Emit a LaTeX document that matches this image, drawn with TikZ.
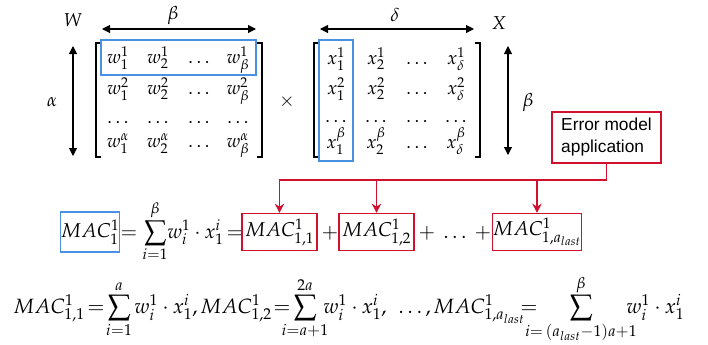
\documentclass[tikz,border=0pt]{standalone}
\usepackage{mathpazo}
\usepackage[no-math]{fontspec}
\newfontfamily\arialfont{Liberation Sans}
\usetikzlibrary{arrows.meta}
\definecolor{bbox}{RGB}{74,144,226}
\definecolor{rbox}{RGB}{208,16,46}
\begin{document}
\begin{tikzpicture}[x=0.75pt,y=-0.75pt,font=\fontsize{14}{17}\selectfont,
  ent/.style={anchor=base,inner sep=0pt},
  entw/.style={anchor=base west,inner sep=0pt},
  lbl/.style={inner sep=0pt},
  dim/.style={{Triangle[length=6pt,width=6pt]}-{Triangle[length=6pt,width=6pt]},line width=0.8pt},
  brk/.style={line width=0.8pt},
  bluebox/.style={draw=bbox,line width=0.8pt,inner sep=0pt},
  redbox/.style={draw=rbox,line width=0.8pt,inner sep=0pt,minimum height=27.75pt},
  rarr/.style={draw=rbox,line width=0.8pt,-{Stealth[length=7pt,width=7pt]}},
  teq/.style={font=\fontsize{15}{18}\selectfont},
  beq/.style={font=\fontsize{15.5}{18.5}\selectfont}]
\useasboundingbox (0,0) rectangle (708,344);

% ---- W matrix ----
\node[lbl] (Wl) at (73,20) {$W$};
\coordinate (wb1) at (102,29); \coordinate (wb2) at (256,29);
\draw[dim] (wb1) -- (wb2);
\node[lbl] (betaW) at (173,15) {$\beta$};
\coordinate (wa1) at (73,46); \coordinate (wa2) at (73,156);
\draw[dim] (wa1) -- (wa2);
\node[lbl] (alphaW) at (52,102) {$\alpha$};
\draw[brk] (101,43) -- (96,43) -- (96,157) -- (101,157);
\draw[brk] (257,43) -- (262,43) -- (262,157) -- (257,157);
\draw[draw=bbox,line width=0.8pt] (101,40) rectangle (256,75);

\node[ent] (w11) at (118,63) {$w_1^1$};
\node[ent] (w12) at (158,63) {$w_2^1$};
\node[ent] (w13) at (199,63) {$\dots$};
\node[ent] (w14) at (238,63) {$w_\beta^1$};
\node[ent] (w21) at (118,94) {$w_1^2$};
\node[ent] (w22) at (158,94) {$w_2^2$};
\node[ent] (w23) at (199,94) {$\dots$};
\node[ent] (w24) at (238,94) {$w_\beta^2$};
\node[ent] (w31) at (118,123) {$\dots$};
\node[ent] (w32) at (158,123) {$\dots$};
\node[ent] (w33) at (199,123) {$\dots$};
\node[ent] (w34) at (238,123) {$\dots$};
\node[ent] (w41) at (118,147) {$w_1^\alpha$};
\node[ent] (w42) at (158,147) {$w_2^\alpha$};
\node[ent] (w43) at (199,147) {$\dots$};
\node[ent] (w44) at (238,147) {$w_\beta^\alpha$};

\node[lbl] (times) at (287,102) {$\times$};

% ---- X matrix ----
\node[lbl] (Xl) at (499,23) {$X$};
\coordinate (xd1) at (320,29); \coordinate (xd2) at (474,29);
\draw[dim] (xd1) -- (xd2);
\node[lbl] (deltaX) at (395,15) {$\delta$};
\coordinate (xb1) at (508,46); \coordinate (xb2) at (508,155);
\draw[dim] (xb1) -- (xb2);
\node[lbl] (betaX) at (528,102) {$\beta$};
\draw[brk] (319,43) -- (314,43) -- (314,157) -- (319,157);
\draw[brk] (475,43) -- (480,43) -- (480,157) -- (475,157);
\draw[draw=bbox,line width=0.8pt] (319,40) rectangle (353,161);

\node[ent] (x11) at (336,64) {$x_1^1$};
\node[ent] (x12) at (376,64) {$x_2^1$};
\node[ent] (x13) at (417,64) {$\dots$};
\node[ent] (x14) at (456,64) {$x_\delta^1$};
\node[ent] (x21) at (336,94) {$x_1^2$};
\node[ent] (x22) at (376,94) {$x_2^2$};
\node[ent] (x23) at (417,94) {$\dots$};
\node[ent] (x24) at (456,94) {$x_\delta^2$};
\node[ent] (x31) at (336,122) {$\dots$};
\node[ent] (x32) at (376,122) {$\dots$};
\node[ent] (x33) at (417,122) {$\dots$};
\node[ent] (x34) at (456,122) {$\dots$};
\node[ent] (x41) at (336,148) {$x_1^\beta$};
\node[ent] (x42) at (376,148) {$x_2^\beta$};
\node[ent] (x43) at (417,148) {$\dots$};
\node[ent] (x44) at (456,148) {$x_\delta^\beta$};

% ---- error model box ----
\node[draw=rbox,line width=0.8pt,minimum width=81.75pt,minimum height=38.25pt,
      align=left,font=\arialfont\fontsize{13}{16.5}\selectfont,inner sep=2pt]
      (err) at (606.5,137.5) {Error model\\application};

% ---- top equation ----
\node[bluebox,teq,minimum width=42pt,minimum height=30pt] (mac) at (90,232) {$MAC_1^1$};
\node[ent,teq] (eqA) at (129,238) {$=$};
\node[ent,teq] (sumA) at (155,238) {$\displaystyle\sum_{i=1}^{\beta}$};
\node[entw,teq] (termA) at (167,238) {$w_i^1\cdot x_1^i$};
\node[ent,teq] (eqB) at (235,238) {$=$};
\node[redbox,teq,minimum width=56.25pt] (m11) at (279.5,232) {$MAC_{1,1}^1$};
\node[ent,teq] (p1) at (330,238) {$+$};
\node[redbox,teq,minimum width=56.25pt] (m12) at (376.5,232) {$MAC_{1,2}^1$};
\node[ent,teq] (p2) at (427,238) {$+$};
\node[ent,teq] (dd) at (455,238) {$\dots$};
\node[ent,teq] (p3) at (483,238) {$+$};
\node[redbox,teq,minimum width=64.5pt] (mlast) at (537,232) {$MAC_{1,a_{last}}^1$};

\coordinate (junc) at (606.5,180);
\draw[rarr] (err.south) -- (junc) -| (m11.north);
\draw[rarr] (err.south) -- (junc) -| (m12.north);
\draw[rarr] (err.south) -- (junc) -| (mlast.north);

% ---- bottom equation ----
\node[entw,beq] (b1) at (13,313) {$MAC_{1,1}^1$};
\node[ent,beq] (be1) at (96,313) {$=$};
\node[ent,beq] (bs1) at (119,313) {$\displaystyle\sum_{i=1}^{a}$};
\node[entw,beq] (bt1) at (134,313) {$w_i^1\cdot x_1^i,$};
\node[entw,beq] (b2) at (200,313) {$MAC_{1,2}^1$};
\node[ent,beq] (be2) at (282,313) {$=$};
\node[ent,beq] (bs2) at (305,313) {$\displaystyle\sum_{i=a+1}^{2a}$};
\node[entw,beq] (bt2) at (323,313) {$w_i^1\cdot x_1^i,$};
\node[entw,beq] (bd) at (398,313) {$\dots,$};
\node[entw,beq] (b3) at (433,313) {$MAC_{1,a_{last}}^1$};
\node[ent,beq] (be3) at (529,313) {$=$};
\node[ent,beq] (bs3) at (581,313) {$\displaystyle\sum_{i=\,(a_{last}-1)a+1}^{\beta}$};
\node[entw,beq] (bt3) at (626,313) {$w_i^1\cdot x_1^i$};
\end{tikzpicture}
\end{document}
